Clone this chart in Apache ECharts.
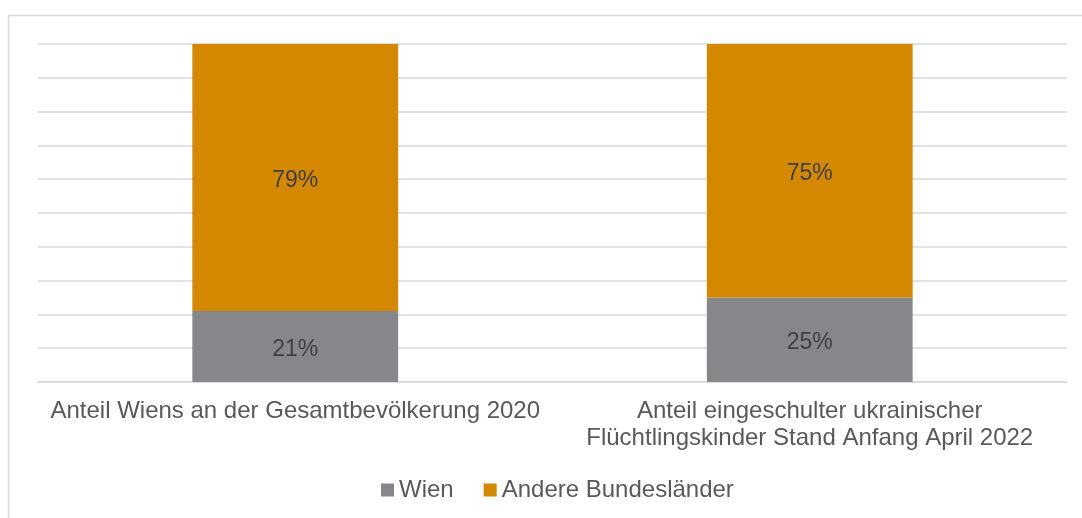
<!DOCTYPE html>
<html>
<head>
    <meta charset="utf-8">
    <title>ECharts</title>
    <script src="https://cdn.jsdelivr.net/npm/echarts@6/dist/echarts.min.js"></script>
    <style>
        html, body { margin: 0; padding: 0; background: #fff; }
    </style>
</head>
<body>
    <div id="main" style="width: 1082px;height:518px;"></div>
    <script type="text/javascript">
        // Kategorien und Anteile in Prozent
        var categories = [
            'Anteil Wiens an der Gesamtbevölkerung 2020',
            'Anteil eingeschulter ukrainischer\nFlüchtlingskinder Stand Anfang April 2022'
        ];
        var wien = [21, 25];
        var andere = [79, 75];
        var seriesNames = ['Wien', 'Andere Bundesländer'];

        var chart = echarts.init(document.getElementById('main'));
        var labelStyle = {
            show: true,
            position: 'inside',
            offset: [0, 3],
            formatter: '{c}%',
            color: '#404040',
            fontSize: 23,
            fontFamily: 'Liberation Sans, Arial, sans-serif'
        };
        chart.setOption({
            animation: false,
            textStyle: { fontFamily: 'Liberation Sans, Arial, sans-serif' },
            graphic: [{
                type: 'rect',
                silent: true,
                shape: { x: 8.5, y: 15.5, width: 1200, height: 700 },
                style: { fill: 'none', stroke: '#d9d9d9', lineWidth: 1.5 }
            }],
            grid: { left: 38, right: 15, top: 44, bottom: 136 },
            legend: {
                data: seriesNames,
                left: 381,
                top: 478,
                padding: 0,
                icon: 'rect',
                itemWidth: 13,
                itemHeight: 13,
                itemGap: 30,
                textStyle: { color: '#595959', fontSize: 24 }
            },
            xAxis: {
                type: 'category',
                data: categories,
                axisTick: { show: false },
                axisLine: { lineStyle: { color: '#d9d9d9', width: 1.5 } },
                axisLabel: {
                    color: '#595959',
                    fontSize: 24,
                    lineHeight: 27,
                    margin: 16,
                    interval: 0
                }
            },
            yAxis: {
                type: 'value',
                min: 0,
                max: 100,
                interval: 10,
                axisLabel: { show: false },
                axisLine: { show: false },
                axisTick: { show: false },
                splitLine: { lineStyle: { color: '#d9d9d9', width: 1.5 } }
            },
            series: [{
                name: seriesNames[0],
                type: 'bar',
                stack: 'total',
                data: wien,
                barWidth: '40%',
                itemStyle: { color: '#87868b' },
                label: labelStyle
            }, {
                name: seriesNames[1],
                type: 'bar',
                stack: 'total',
                data: andere,
                barWidth: '40%',
                itemStyle: { color: '#d48800' },
                label: labelStyle
            }]
        });
    </script>
</body>
</html>
